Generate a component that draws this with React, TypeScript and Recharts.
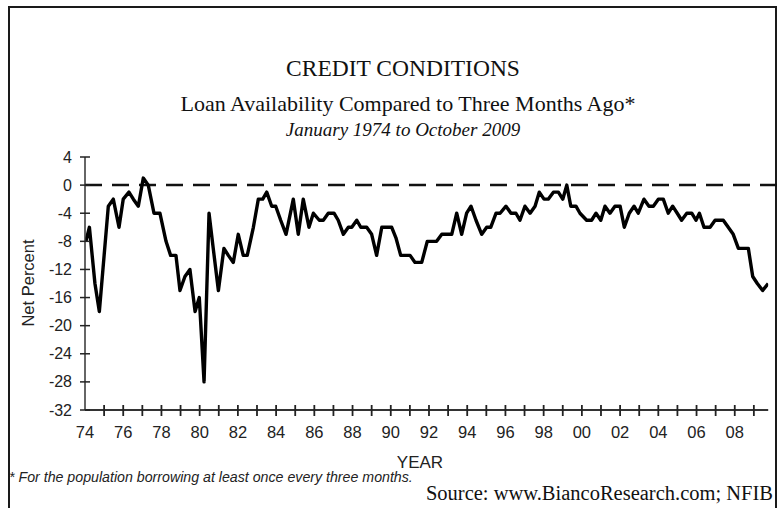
import React from 'react';
import { LineChart, Line, XAxis, YAxis, ReferenceLine } from 'recharts';

// survey dates (decimal years)
const dates = [
  1974.05, 1974.23, 1974.52, 1974.75, 1975.22, 1975.48, 1975.78, 1976.0, 1976.3, 1976.53,
  1976.79, 1977.05, 1977.31, 1977.61, 1977.92, 1978.24, 1978.48, 1978.76, 1978.97, 1979.23,
  1979.49, 1979.76, 1979.98, 1980.23, 1980.49, 1980.71, 1980.98, 1981.27, 1981.5, 1981.76,
  1982.02, 1982.28, 1982.49, 1982.81, 1983.07, 1983.3, 1983.51, 1983.77, 1983.98, 1984.24,
  1984.52, 1984.9, 1985.16, 1985.42, 1985.72, 1985.95, 1986.26, 1986.47, 1986.73, 1987.03,
  1987.25, 1987.52, 1987.78, 1987.96, 1988.22, 1988.43, 1988.74, 1989.0, 1989.26, 1989.53,
  1990.05, 1990.27, 1990.52, 1991.01, 1991.27, 1991.62, 1991.91, 1992.4, 1992.67, 1993.19,
  1993.45, 1993.71, 1993.97, 1994.2, 1994.46, 1994.76, 1995.02, 1995.23, 1995.51, 1995.72,
  1996.03, 1996.29, 1996.55, 1996.76, 1997.02, 1997.29, 1997.55, 1997.77, 1998.02, 1998.24,
  1998.51, 1998.77, 1999.0, 1999.21, 1999.42, 1999.69, 1999.9, 2000.25, 2000.51, 2000.74,
  2000.99, 2001.21, 2001.47, 2001.73, 2002.0, 2002.22, 2002.48, 2002.73, 2002.95, 2003.25,
  2003.51, 2003.74, 2004.0, 2004.26, 2004.52, 2004.75, 2004.99, 2005.22, 2005.49, 2005.75,
  2005.97, 2006.15, 2006.39, 2006.71, 2006.97, 2007.4, 2007.66, 2007.92, 2008.19, 2008.71,
  2008.94, 2009.18, 2009.46, 2009.75,
];

// net percent, loan availability vs three months ago
const netPercent = [
  -8, -6, -14, -18, -3, -2, -6, -2, -1, -2,
  -3, 1, 0, -4, -4, -8, -10, -10, -15, -13,
  -12, -18, -16, -28, -4, -9, -15, -9, -10, -11,
  -7, -10, -10, -6, -2, -2, -1, -3, -3, -5,
  -7, -2, -7, -2, -6, -4, -5, -5, -4, -4,
  -5, -7, -6, -6, -5, -6, -6, -7, -10, -6,
  -6, -7.5, -10, -10, -11, -11, -8, -8, -7, -7,
  -4, -7, -4, -3, -5, -7, -6, -6, -4, -4,
  -3, -4, -4, -5, -3, -4, -3, -1, -2, -2,
  -1, -1, -2, 0, -3, -3, -4, -5, -5, -4,
  -5, -3, -4, -3, -3, -6, -4, -3, -4, -2,
  -3, -3, -2, -2, -4, -3, -4, -5, -4, -4,
  -5, -4, -6, -6, -5, -5, -6, -7, -9, -9,
  -13, -14, -15, -14,
];

const yearTicks = [
  1974, 1975, 1976, 1977, 1978, 1979, 1980, 1981, 1982, 1983, 1984, 1985,
  1986, 1987, 1988, 1989, 1990, 1991, 1992, 1993, 1994, 1995, 1996, 1997,
  1998, 1999, 2000, 2001, 2002, 2003, 2004, 2005, 2006, 2007, 2008, 2009,
];
const yTicks = [4, 0, -4, -8, -12, -16, -20, -24, -28, -32];

const data = dates.map((d, i) => ({ date: d, value: netPercent[i] }));

const SANS = '"Liberation Sans", Arial, sans-serif';
const SERIF = '"Liberation Serif", "Times New Roman", serif';

const YearTick = (props: any) => {
  const { x, y, payload } = props;
  const yr = payload.value;
  return (
    <g>
      {yr > 1974 && <line x1={x} x2={x} y1={y - 5} y2={y + 6} stroke="#222" strokeWidth={1.8} />}
      {yr % 2 === 0 && (
        <text x={x} y={y + 28} textAnchor="middle" fontFamily={SANS} fontSize={16.5} fill="#222">
          {String(yr).slice(2)}
        </text>
      )}
    </g>
  );
};

const PercentTick = (props: any) => {
  const { x, y, payload } = props;
  return (
    <g>
      <line x1={x - 5} x2={x + 5} y1={y} y2={y} stroke="#222" strokeWidth={1.5} />
      <text x={x - 13} y={y + 5.5} textAnchor="end" fontFamily={SANS} fontSize={16} fill="#222">
        {payload.value}
      </text>
    </g>
  );
};

export default function App() {
  return (
    <div style={{ position: 'absolute', left: 0, top: 0, width: 783, height: 508, background: '#fff', overflow: 'hidden' }}>
      <div style={{ position: 'absolute', left: 8, top: 6, width: 769, height: 540, border: '2px solid #1a1a1a', boxSizing: 'border-box' }} />
      <LineChart
        width={783}
        height={508}
        data={data}
        margin={{ top: 157, right: 14.8, bottom: 68, left: 25 }}
        style={{ position: 'absolute', left: 0, top: 0 }}
      >
        <XAxis
          type="number"
          dataKey="date"
          domain={[1974, 2009.75]}
          ticks={yearTicks}
          interval={0}
          tickSize={0}
          tickMargin={0}
          height={30}
          tick={<YearTick />}
          tickLine={false}
          axisLine={{ stroke: '#333', strokeWidth: 1.8 }}
          allowDataOverflow
        />
        <YAxis
          type="number"
          domain={[-32, 4]}
          ticks={yTicks}
          interval={0}
          tickSize={0}
          tickMargin={0}
          width={60}
          tick={<PercentTick />}
          tickLine={false}
          axisLine={{ stroke: '#333', strokeWidth: 1.5 }}
          allowDataOverflow
        />
        <ReferenceLine
          segment={[{ x: 1974, y: 0 }, { x: 2010.25, y: 0 }]}
          ifOverflow="visible"
          stroke="#111"
          strokeWidth={2.5}
          strokeDasharray="17 10"
        />
        <Line
          type="linear"
          dataKey="value"
          stroke="#000"
          strokeWidth={3.4}
          strokeLinejoin="round"
          dot={false}
          isAnimationActive={false}
        />
      </LineChart>
      <svg width={783} height={508} style={{ position: 'absolute', left: 0, top: 0, pointerEvents: 'none' }}>
        <text x={403} y={76} textAnchor="middle" fontFamily={SERIF} fontSize={23.5} fill="#111">CREDIT CONDITIONS</text>
        <text x={408} y={111} textAnchor="middle" fontFamily={SERIF} fontSize={22} fill="#111">
          Loan Availability Compared to Three Months Ago*
        </text>
        <text x={403} y={136} textAnchor="middle" fontFamily={SERIF} fontSize={19} fontStyle="italic" fill="#111">
          January 1974 to October 2009
        </text>
        <text
          x={34}
          y={283}
          textAnchor="middle"
          fontFamily={SANS}
          fontSize={16.5}
          fill="#222"
          transform="rotate(-90 34 283)"
        >
          Net Percent
        </text>
        <text x={420} y={468} textAnchor="middle" fontFamily={SANS} fontSize={17} fill="#222">YEAR</text>
        <text x={9} y={482} fontFamily={SANS} fontSize={14.2} fontStyle="italic" fill="#222">
          * For the population borrowing at least once every three months.
        </text>
        <text x={773} y={500} textAnchor="end" fontFamily={SERIF} fontSize={20.5} fill="#111">
          Source: www.BiancoResearch.com; NFIB
        </text>
      </svg>
    </div>
  );
}
